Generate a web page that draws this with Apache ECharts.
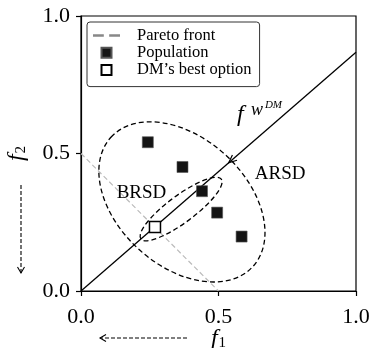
<!DOCTYPE html>
<html>
<head>
<meta charset="utf-8">
<script src="https://cdn.jsdelivr.net/npm/echarts@6/dist/echarts.min.js"></script>
<style>
  html, body { margin: 0; padding: 0; background: #fff; }
  #chart { width: 372px; height: 348px; }
</style>
</head>
<body>
<div id="chart"></div>
<script>
const SERIF = '"Liberation Serif", "Times New Roman", serif';

// axis ticks shared by f1 and f2
const axisTicks = [0.0, 0.5, 1.0];

// Pareto front (straight segment)
const paretoX = [0.0, 0.5];
const paretoY = [0.5, 0.0];

// population members
const popX = [0.243, 0.369, 0.440, 0.495, 0.584];
const popY = [0.541, 0.451, 0.363, 0.285, 0.198];

// decision maker's best option
const dmBest = [0.269, 0.233];

// preference direction drawn from the origin, and where its arrow head sits
const wDM = [1.0, 0.868];
const wArrowAt = [0.537, 0.466];

// regions: centre x, centre y, semi-major, semi-minor, major-axis angle (deg)
const outerRegion = [0.367, 0.324, 0.349, 0.233, -42.3];
const innerRegion = [0.364, 0.298, 0.182, 0.049, 36.6];

// region labels and their anchor points
const regionLabels = ['BRSD', 'ARSD'];
const regionLabelPos = [[0.22, 0.356], [0.724, 0.424]];
const wLabelPos = [0.567, 0.64];

const SQUARE = 'path://M0,0H10V10H0Z';
const DASH_ICON = 'path://M0,0H10.7V2.7H0Z M16,0H26.7V2.7H16Z';

function ellipseSeries(e) {
  return {
    type: 'custom',
    coordinateSystem: 'cartesian2d',
    silent: true,
    z: 3,
    data: [e],
    encode: { x: 0, y: 1 },
    renderItem(params, api) {
      const c = api.coord([api.value(0), api.value(1)]);
      const s = api.size([api.value(2), api.value(3)]);
      return {
        type: 'ellipse',
        x: c[0], y: c[1],
        rotation: api.value(4) * Math.PI / 180,
        shape: { cx: 0, cy: 0, rx: s[0], ry: s[1] },
        style: { fill: 'none', stroke: '#000', lineWidth: 1.3, lineDash: [5, 3] }
      };
    }
  };
}

const nameRich = {
  f: { fontFamily: SERIF, fontStyle: 'italic', fontSize: 24, color: '#000' },
  s: { fontFamily: SERIF, fontSize: 15, color: '#000', padding: [8, 0, 0, 1] }
};

const axisCommon = {
  type: 'value',
  min: 0, max: 1, interval: 0.5,
  nameLocation: 'middle',
  axisLine: { show: true, lineStyle: { color: '#000', width: 1.2 } },
  axisTick: { show: true, length: 5, lineStyle: { color: '#000', width: 1.2 } },
  splitLine: { show: false },
  nameTextStyle: { rich: nameRich }
};

function tickLabels(margin) {
  return {
    fontFamily: SERIF, fontSize: 22, color: '#000', margin: margin,
    formatter: v => axisTicks.some(t => Math.abs(t - v) < 1e-9) ? v.toFixed(1) : ''
  };
}

const chart = echarts.init(document.getElementById('chart'), null, { renderer: 'canvas' });

chart.setOption({
  animation: false,
  backgroundColor: '#fff',
  grid: {
    left: 81, top: 16, width: 275, height: 275,
    containLabel: false, outerBoundsMode: 'none',
    show: true, borderColor: '#000', borderWidth: 1.2, backgroundColor: 'transparent'
  },
  xAxis: Object.assign({}, axisCommon, {
    name: '{f|f}{s|1}', nameGap: 36, nameMoveOverlap: false, axisLabel: tickLabels(15)
  }),
  yAxis: Object.assign({}, axisCommon, {
    name: '{f|f}{s|2}', nameGap: 52, nameRotate: 90, axisLabel: tickLabels(11)
  }),
  legend: {
    orient: 'vertical',
    left: 87, top: 22,
    padding: [5, 8, 8, 6],
    itemWidth: 27, itemHeight: 10, itemGap: 0.3,
    borderColor: '#333', borderWidth: 1, borderRadius: 3, backgroundColor: '#fff',
    selectedMode: false,
    textStyle: { fontFamily: SERIF, fontSize: 16.5, color: '#000', lineHeight: 14, padding: [0, 0, 0, 12] },
    data: [
      { name: 'Pareto front', icon: DASH_ICON, itemStyle: { color: '#888', borderWidth: 0 } },
      { name: 'Population', icon: SQUARE },
      { name: 'DM\u2019s best option', icon: SQUARE }
    ]
  },
  series: [
    {
      name: 'Pareto front',
      type: 'line',
      data: paretoX.map((x, i) => [x, paretoY[i]]),
      symbol: 'none',
      color: '#bbb',
      lineStyle: { color: '#bbb', width: 1.2, type: [5, 3] },
      z: 2
    },
    ellipseSeries(outerRegion),
    ellipseSeries(innerRegion),
    {
      name: 'w direction',
      type: 'line',
      data: [[0, 0], wDM],
      symbol: 'none',
      lineStyle: { color: '#000', width: 1.3 },
      z: 4
    },
    {
      name: 'w arrow',
      type: 'custom',
      silent: true,
      z: 4,
      data: [[wArrowAt[0], wArrowAt[1], wDM[0], wDM[1]]],
      encode: { x: 0, y: 1 },
      renderItem(params, api) {
        const tip = api.coord([api.value(0), api.value(1)]);
        const tail = api.coord([api.value(2), api.value(3)]);
        const dx = tip[0] - tail[0], dy = tip[1] - tail[1];
        const L = Math.hypot(dx, dy);
        const ux = dx / L, uy = dy / L;
        const len = 8, half = 3.5;
        const bx = tip[0] - ux * len, by = tip[1] - uy * len;
        return {
          type: 'polyline',
          shape: { points: [[bx - uy * half, by + ux * half], tip, [bx + uy * half, by - ux * half]] },
          style: { fill: 'none', stroke: '#000', lineWidth: 1.2 }
        };
      }
    },
    {
      name: 'Population',
      type: 'scatter',
      data: popX.map((x, i) => [x, popY[i]]),
      symbol: 'rect',
      symbolSize: 11,
      itemStyle: { color: '#141414', borderColor: '#555', borderWidth: 0.6, opacity: 1 },
      z: 6
    },
    {
      name: 'DM\u2019s best option',
      type: 'scatter',
      data: [dmBest],
      symbol: 'rect',
      symbolSize: 11,
      itemStyle: { color: '#fff', borderColor: '#000', borderWidth: 1.5, opacity: 1 },
      z: 7
    }
  ]
});

// text annotations and axis direction arrows
const px = p => chart.convertToPixel({ gridIndex: 0 }, p);
const graphics = [];

regionLabels.forEach((t, i) => {
  const p = px(regionLabelPos[i]);
  graphics.push({
    type: 'text', x: p[0], y: p[1], z: 10,
    style: { text: t, fontFamily: SERIF, fontSize: 19, fill: '#000', align: 'center', verticalAlign: 'middle' }
  });
});

const wp = px(wLabelPos);
graphics.push(
  { type: 'text', x: wp[0], y: wp[1], z: 10,
    style: { text: 'f', fontFamily: SERIF, fontStyle: 'italic', fontSize: 24, fill: '#000', align: 'left', verticalAlign: 'middle' } },
  { type: 'text', x: wp[0] + 14, y: wp[1] - 5, z: 10,
    style: { text: 'w', fontFamily: SERIF, fontStyle: 'italic', fontSize: 18, fill: '#000', align: 'left', verticalAlign: 'middle' } },
  { type: 'text', x: wp[0] + 28, y: wp[1] - 10, z: 10,
    style: { text: 'DM', fontFamily: SERIF, fontStyle: 'italic', fontSize: 11, fill: '#000', align: 'left', verticalAlign: 'middle' } }
);

function dashedArrow(x1, y1, x2, y2) {
  const dx = x2 - x1, dy = y2 - y1, L = Math.hypot(dx, dy);
  const ux = dx / L, uy = dy / L, len = 6, half = 3.5;
  const bx = x2 - ux * len, by = y2 - uy * len;
  return [
    { type: 'line', shape: { x1, y1, x2, y2 },
      style: { stroke: '#000', lineWidth: 1.1, lineDash: [4, 2] } },
    { type: 'polyline',
      shape: { points: [[bx - uy * half, by + ux * half], [x2, y2], [bx + uy * half, by - ux * half]] },
      style: { fill: 'none', stroke: '#000', lineWidth: 1.1 } }
  ];
}
graphics.push(...dashedArrow(187, 338, 100, 338));
graphics.push(...dashedArrow(21, 185, 21, 273));

chart.setOption({ graphic: graphics });
</script>
</body>
</html>
